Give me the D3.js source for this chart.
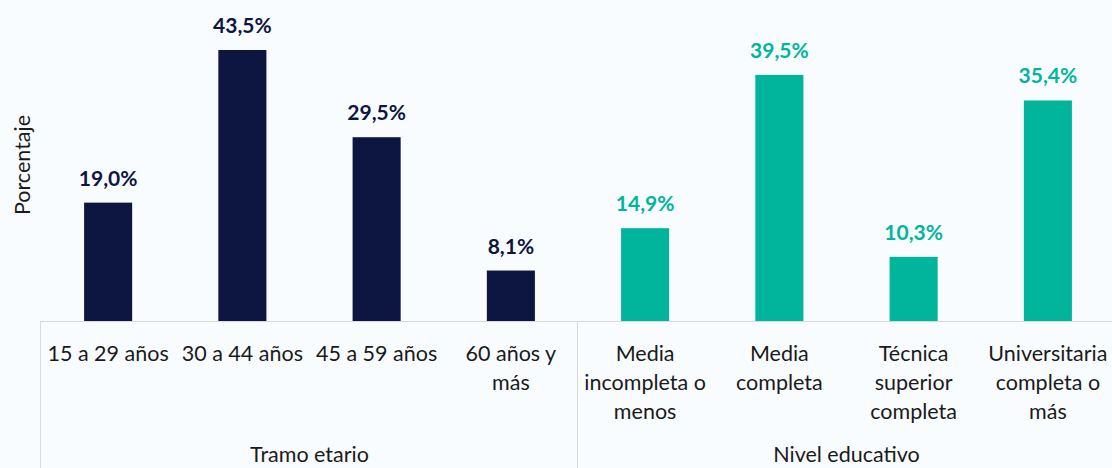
<!DOCTYPE html>
<html>
<head>
<meta charset="utf-8">
<script src="https://cdn.jsdelivr.net/npm/d3@7"></script>
<style>
  body { margin: 0; background: #f9fcfe; }
  svg { display: block; font-family: Lato, "Open Sans", sans-serif; }
</style>
</head>
<body>
<script>
// data
const categories = ["15 a 29 años", "30 a 44 años", "45 a 59 años", "60 años y más",
  "Media incompleta o menos", "Media completa", "Técnica superior completa", "Universitaria completa o más"];
const tickLines = [["15 a 29 años"], ["30 a 44 años"], ["45 a 59 años"], ["60 años y", "más"],
  ["Media", "incompleta o", "menos"], ["Media", "completa"], ["Técnica", "superior", "completa"], ["Universitaria", "completa o", "más"]];
const values = [19.0, 43.5, 29.5, 8.1, 14.9, 39.5, 10.3, 35.4];
const groups = ["Tramo etario", "Tramo etario", "Tramo etario", "Tramo etario",
  "Nivel educativo", "Nivel educativo", "Nivel educativo", "Nivel educativo"];
const groupNames = ["Tramo etario", "Nivel educativo"];
const groupColors = ["#0d1541", "#00b59c"];

const width = 1112, height = 468;
const left = 41, base = 321;
const band = 134.25;

const svg = d3.select("body").append("svg")
    .attr("width", width)
    .attr("height", height)

const x = d3.scaleBand()
    .domain(categories)
    .range([left, left + band * categories.length])
    .paddingInner(0.642)
    .paddingOuter(0.321)

const y = d3.scaleLinear()
    .domain([0, 43.5])
    .range([base, 50])

const color = d3.scaleOrdinal().domain(groupNames).range(groupColors)

const fmt = (v) => d3.format(".1f")(v).replace(".", ",") + "%";

// bars
svg.selectAll(".bar")
  .data(values)
  .enter()
  .append("rect")
    .attr("class", "bar")
    .attr("x", (d, i) => x(categories[i]))
    .attr("y", (d) => y(d))
    .attr("width", x.bandwidth())
    .attr("height", (d) => y(0) - y(d))
    .attr("fill", (d, i) => color(groups[i]))

// value labels
svg.selectAll(".val")
  .data(values)
  .enter()
  .append("text")
    .attr("class", "val")
    .attr("x", (d, i) => x(categories[i]) + x.bandwidth() / 2)
    .attr("y", (d) => y(d) - 17)
    .attr("text-anchor", "middle")
    .attr("font-size", 21)
    .attr("font-weight", "bold")
    .attr("fill", (d, i) => color(groups[i]))
    .text(fmt)

// axis line + group separators
const lineColor = "#d9d9d9";
svg.append("line")
    .attr("x1", left).attr("x2", width)
    .attr("y1", base + 0.5).attr("y2", base + 0.5)
    .attr("stroke", lineColor)

const groupEdges = [0, 4];
svg.selectAll(".sep")
  .data(groupEdges)
  .enter()
  .append("line")
    .attr("class", "sep")
    .attr("x1", (d) => left + d * band - 0.5)
    .attr("x2", (d) => left + d * band - 0.5)
    .attr("y1", base)
    .attr("y2", height)
    .attr("stroke", lineColor)

// category labels
const tick = svg.selectAll(".tick")
  .data(categories)
  .enter()
  .append("text")
    .attr("class", "tick")
    .attr("x", (d) => x(d) + x.bandwidth() / 2)
    .attr("y", 361)
    .attr("text-anchor", "middle")
    .attr("font-size", 21.5)
    .attr("fill", "#1a1a1a")

tick.selectAll("tspan")
  .data((d, i) => tickLines[i])
  .enter()
  .append("tspan")
    .attr("x", function() { return this.parentNode.getAttribute("x"); })
    .attr("dy", (d, i) => i === 0 ? 0 : 29)
    .text((d) => d)

// group labels
svg.selectAll(".group")
  .data(groupNames)
  .enter()
  .append("text")
    .attr("class", "group")
    .attr("x", (d, i) => left + band * 4 * i + band * 2)
    .attr("y", 462)
    .attr("text-anchor", "middle")
    .attr("font-size", 21.5)
    .attr("fill", "#1a1a1a")
    .text((d) => d)

// y title
svg.append("text")
    .attr("transform", "translate(30,165) rotate(-90)")
    .attr("text-anchor", "middle")
    .attr("font-size", 21.5)
    .attr("fill", "#1a1a1a")
    .text("Porcentaje")
</script>
</body>
</html>
